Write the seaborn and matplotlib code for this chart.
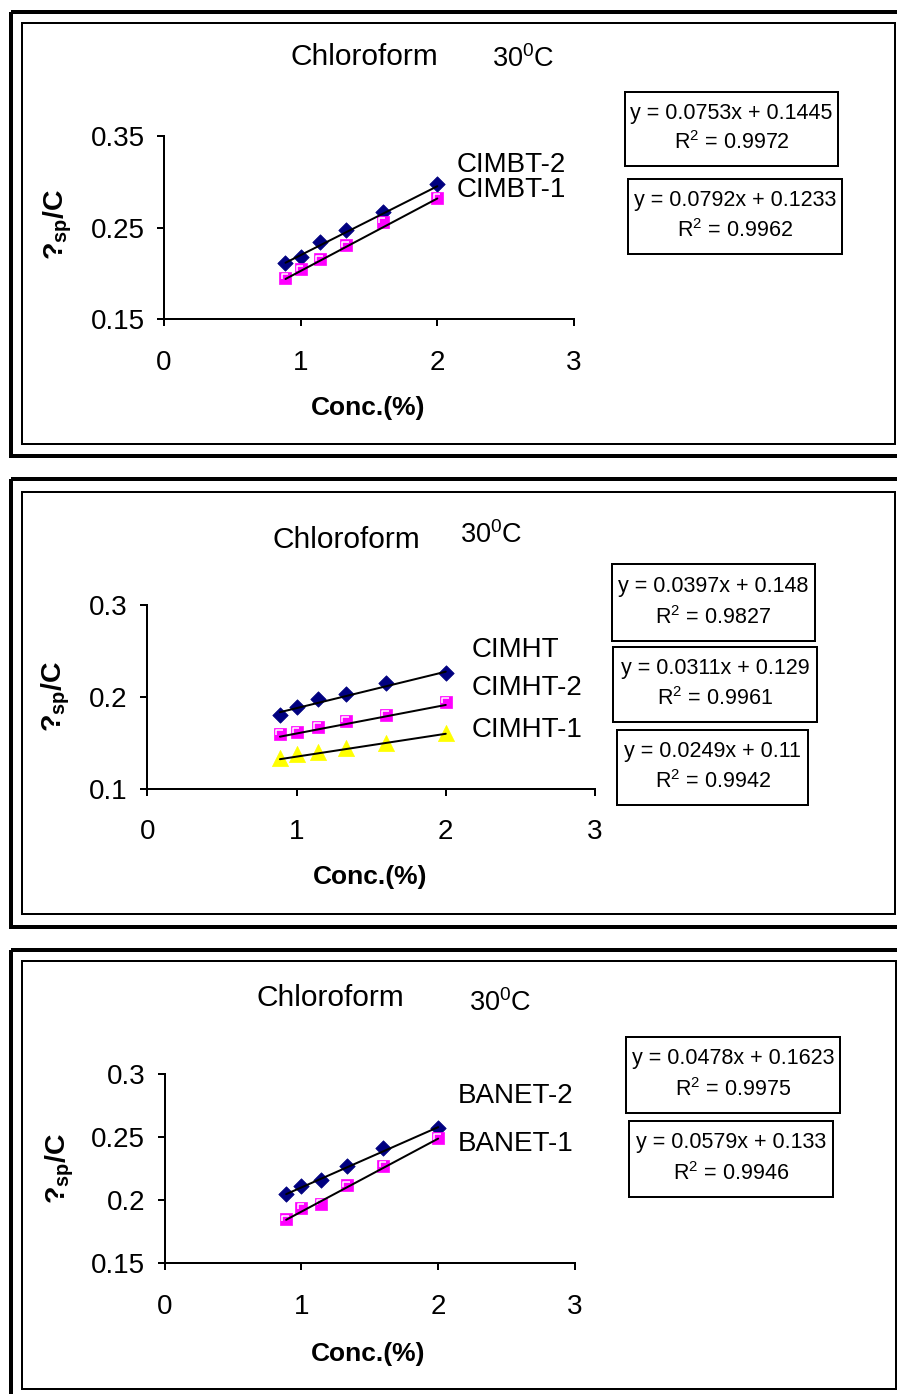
import numpy as np
import matplotlib
matplotlib.use("Agg")
import matplotlib.pyplot as plt
from matplotlib.patches import Rectangle
from matplotlib.path import Path
import seaborn as sns

# ---------------- data ----------------
conc = [0.889, 1.0, 1.143, 1.333, 1.6, 2.0]          # concentration (%)
x_ticks = [0, 1, 2, 3]
x_tick_labels = ["0", "1", "2", "3"]

# reduced viscosity (eta_sp / C), chloroform, 30 C
cimbt2 = [0.2115, 0.2180, 0.2338, 0.2473, 0.2673, 0.2972]
cimbt1 = [0.1950, 0.2043, 0.2152, 0.2305, 0.2564, 0.2826]

cimht = [0.1804, 0.1894, 0.1978, 0.2029, 0.2156, 0.2265]
cimht2 = [0.1600, 0.1622, 0.1670, 0.1738, 0.1800, 0.1949]
cimht1 = [0.1331, 0.1378, 0.1397, 0.1440, 0.1500, 0.1610]

banet2 = [0.2051, 0.2111, 0.2158, 0.2269, 0.2414, 0.2572]
banet1 = [0.1848, 0.1940, 0.1971, 0.2118, 0.2273, 0.2492]

# linear fits: slope, intercept, R^2
fit_cimbt2 = (0.0753, 0.1445, 0.9972)
fit_cimbt1 = (0.0792, 0.1233, 0.9962)
fit_cimht = (0.0397, 0.148, 0.9827)
fit_cimht2 = (0.0311, 0.129, 0.9961)
fit_cimht1 = (0.0249, 0.11, 0.9942)
fit_banet2 = (0.0478, 0.1623, 0.9975)
fit_banet1 = (0.0579, 0.133, 0.9946)

y_ticks_1 = [0.15, 0.25, 0.35]
y_tick_labels_1 = ["0.15", "0.25", "0.35"]
y_ticks_2 = [0.1, 0.2, 0.3]
y_tick_labels_2 = ["0.1", "0.2", "0.3"]
y_ticks_3 = [0.15, 0.2, 0.25, 0.3]
y_tick_labels_3 = ["0.15", "0.2", "0.25", "0.3"]

solvent = "Chloroform"
temperature = "30$^{0}$C"
x_title = "Conc.(%)"
y_title = "?$_{\\mathbf{sp}}$/C"

# ---------------- style ----------------
sns.set_theme(style="white")
plt.rcParams["font.family"] = ["Liberation Sans", "DejaVu Sans"]
plt.rcParams["mathtext.fontset"] = "custom"
plt.rcParams["mathtext.rm"] = "Liberation Sans"
plt.rcParams["mathtext.it"] = "Liberation Sans:italic"
plt.rcParams["mathtext.bf"] = "Liberation Sans:bold"
plt.rcParams["text.color"] = "black"

NAVY = "#000080"
MAGENTA = "#FF00FF"
YELLOW = "#FFFF00"

W, H = 897, 1394
fig = plt.figure(figsize=(W / 100, H / 100), dpi=100)
fig.patch.set_facecolor("white")

# pixel-space canvas for frames, titles and annotation boxes
bg = fig.add_axes([0, 0, 1, 1], zorder=0)
bg.set_xlim(0, W)
bg.set_ylim(H, 0)
bg.axis("off")

PX = 0.72  # points per pixel at 100 dpi

# white corner mark drawn inside the square markers
corner = Path([(-0.3, -0.12), (-0.3, 0.3), (0.22, 0.3)],
              [Path.MOVETO, Path.LINETO, Path.LINETO])

styles = {
    "diamond": dict(marker="D", s=62, color=NAVY, edgecolor=NAVY, linewidth=0.5),
    "square": dict(marker="s", s=78, color=MAGENTA, edgecolor=MAGENTA, linewidth=0.5),
    "triangle": dict(marker="^", s=135, color=YELLOW, edgecolor=YELLOW, linewidth=0.5),
}

panels = [
    dict(outer=(10.5, 11.5, 960, 455.5), inner=(21.5, 22.5, 895, 444),
         axbox=(164, 136, 574, 319), ylim=(0.15, 0.35),
         yticks=y_ticks_1, yticklabels=y_tick_labels_1,
         title=(290, 65), temp=(492, 67), xlab=(368, 408), ylab=(58, 224),
         series=[
             (cimbt2, fit_cimbt2, "diamond", "CIMBT-2", (457, 165), (624.7, 91.7, 838, 166)),
             (cimbt1, fit_cimbt1, "square", "CIMBT-1", (457, 190), (628, 178.7, 842, 254.3)),
         ]),
    dict(outer=(10.5, 479, 960, 926.5), inner=(21.5, 491.5, 895, 914),
         axbox=(147.3, 605, 595, 788.7), ylim=(0.1, 0.3),
         yticks=y_ticks_2, yticklabels=y_tick_labels_2,
         title=(273, 548), temp=(460, 543), xlab=(370, 877), ylab=(56, 696),
         series=[
             (cimht, fit_cimht, "diamond", "CIMHT", (472, 650), (611.7, 564.3, 815, 641)),
             (cimht2, fit_cimht2, "square", "CIMHT-2", (472, 688), (613.3, 646.7, 816.7, 721.7)),
             (cimht1, fit_cimht1, "triangle", "CIMHT-1", (472, 730), (617.3, 730, 808.3, 805)),
         ]),
    dict(outer=(10.5, 949.5, 960, 1420), inner=(21.5, 961, 896, 1389),
         axbox=(164.5, 1074, 575, 1263.3), ylim=(0.15, 0.3),
         yticks=y_ticks_3, yticklabels=y_tick_labels_3,
         title=(256, 1006), temp=(469, 1011), xlab=(368, 1354), ylab=(60, 1168),
         series=[
             (banet2, fit_banet2, "diamond", "BANET-2", (458, 1096), (626, 1037, 840, 1112.7)),
             (banet1, fit_banet1, "square", "BANET-1", (458, 1144), (629.3, 1120.7, 832.7, 1196.7)),
         ]),
]

for p in panels:
    # double frame around each chart
    x0, y0, x1, y1 = p["outer"]
    bg.add_patch(Rectangle((x0, y0), x1 - x0, y1 - y0, fill=False,
                           edgecolor="black", linewidth=4 * PX))
    x0, y0, x1, y1 = p["inner"]
    bg.add_patch(Rectangle((x0, y0), x1 - x0, y1 - y0, fill=False,
                           edgecolor="black", linewidth=2 * PX))

    # titles and axis titles
    bg.text(*p["title"], solvent, fontsize=21.5, ha="left", va="baseline")
    bg.text(*p["temp"], temperature, fontsize=19.5, ha="left", va="baseline")
    bg.text(*p["xlab"], x_title, fontsize=19, fontweight="bold",
            ha="center", va="center")
    bg.text(*p["ylab"], y_title, fontsize=20.5, fontweight="bold",
            ha="center", va="center", rotation=90)

    # data axes
    ax_x0, ax_y0, ax_x1, ax_y1 = p["axbox"]
    ax = fig.add_axes([ax_x0 / W, 1 - ax_y1 / H, (ax_x1 - ax_x0) / W,
                       (ax_y1 - ax_y0) / H], zorder=1)
    ax.set_facecolor("none")

    for values, (slope, icpt, r2), style, name, lab_pos, box in p["series"]:
        sns.scatterplot(x=conc, y=values, ax=ax, zorder=2, legend=False,
                        **styles[style])
        if style == "square":
            ax.scatter(conc, values, marker=corner, s=30, facecolors="none",
                       edgecolors="white", linewidths=1.1, zorder=2.5)
        xs = np.array([min(conc), max(conc)])
        sns.lineplot(x=xs, y=slope * xs + icpt, ax=ax, color="black",
                     linewidth=2 * PX, zorder=3, legend=False)

        # series label
        bg.text(lab_pos[0], lab_pos[1], name, fontsize=20, ha="left", va="center")

        # fit equation box
        bx0, by0, bx1, by1 = box
        bh = by1 - by0
        bg.add_patch(Rectangle((bx0, by0), bx1 - bx0, bh, fill=False,
                               edgecolor="black", linewidth=2 * PX))
        cx = (bx0 + bx1) / 2
        bg.text(cx, by0 + 0.29 * bh, f"y = {slope}x + {icpt}", fontsize=15.5,
                ha="center", va="center")
        bg.text(cx, by0 + 0.69 * bh, f"R$^{{2}}$ = {r2}", fontsize=15.5,
                ha="center", va="center")

    ax.set_xlim(0, 3)
    ax.set_ylim(*p["ylim"])
    ax.set_xticks(x_ticks)
    ax.set_xticklabels(x_tick_labels)
    ax.set_yticks(p["yticks"])
    ax.set_yticklabels(p["yticklabels"])
    ax.set_xlabel("")
    ax.set_ylabel("")
    sns.despine(ax=ax)
    for side in ("left", "bottom"):
        ax.spines[side].set_color("black")
        ax.spines[side].set_linewidth(2 * PX)
    ax.tick_params(axis="both", which="major", bottom=True, left=True,
                   direction="out", length=7 * PX, width=2 * PX,
                   colors="black", labelcolor="black", labelsize=20)
    ax.tick_params(axis="x", pad=17)
    ax.tick_params(axis="y", pad=9)
    ax.grid(False)

fig.savefig("out.png", dpi=100)
